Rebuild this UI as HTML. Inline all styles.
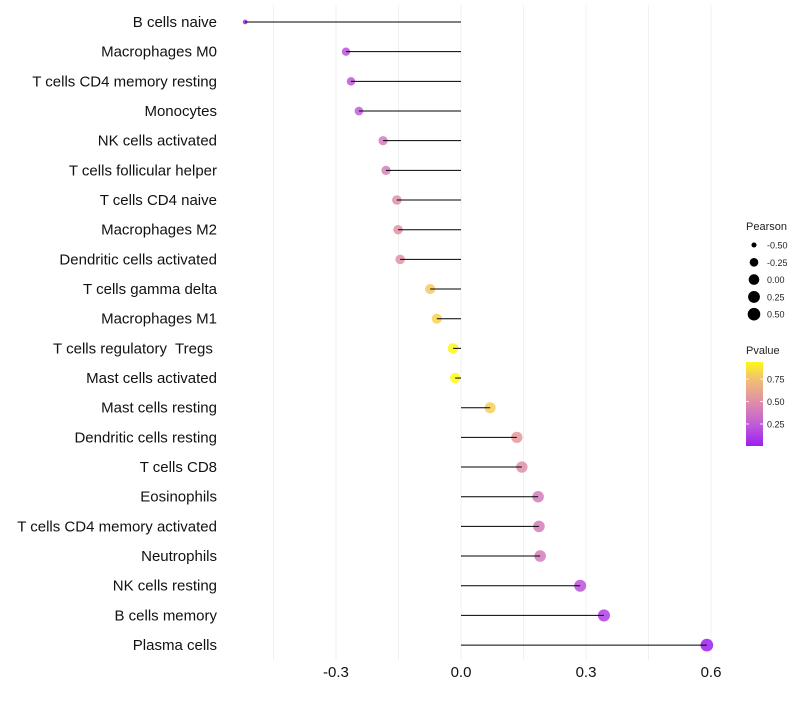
<!DOCTYPE html>
<html><head><meta charset="utf-8"><style>
body{margin:0;background:#fff;font-family:"Liberation Sans",sans-serif}
svg text{font-family:"Liberation Sans",sans-serif;white-space:pre}
</style></head><body>
<svg id="c" width="800" height="700"></svg>
<script>
const categories=["B cells naive","Macrophages M0","T cells CD4 memory resting","Monocytes","NK cells activated","T cells follicular helper","T cells CD4 naive","Macrophages M2","Dendritic cells activated","T cells gamma delta","Macrophages M1","T cells regulatory  Tregs ","Mast cells activated","Mast cells resting","Dendritic cells resting","T cells CD8","Eosinophils","T cells CD4 memory activated","Neutrophils","NK cells resting","B cells memory","Plasma cells"];
const pearson=[-0.518,-0.276,-0.264,-0.245,-0.187,-0.18,-0.154,-0.151,-0.146,-0.074,-0.058,-0.019,-0.014,0.070,0.134,0.146,0.185,0.187,0.19,0.286,0.343,0.590];
const pvalue=[0.01,0.2,0.22,0.25,0.4,0.42,0.5,0.52,0.52,0.78,0.82,0.94,0.95,0.8,0.55,0.5,0.4,0.4,0.4,0.2,0.13,0.005];
const xTicks=[-0.3,0.0,0.3,0.6];
const xTickLabels=["-0.3","0.0","0.3","0.6"];
const gridVals=[-0.45,-0.3,-0.15,0,0.15,0.3,0.45,0.6];
const sizeLegend=[-0.5,-0.25,0,0.25,0.5];
const sizeLegendLabels=["-0.50","-0.25","0.00","0.25","0.50"];
const pTicks=[0.25,0.5,0.75];
const pTickLabels=["0.25","0.50","0.75"];

const NS="http://www.w3.org/2000/svg";
const svg=document.getElementById('c');
function el(t,a,p){const e=document.createElementNS(NS,t);for(const k in a)e.setAttribute(k,a[k]);(p||svg).appendChild(e);return e;}
const x=v=>461+v*416.7;
const y=i=>22+i*29.67;
const r=v=>Math.sqrt(Math.max(3,28+33*v-20*v*v));
const stops=[[0,[155,31,240]],[0.25,[194,94,216]],[0.5,[223,143,168]],[0.75,[242,192,112]],[0.95,[255,250,20]]];
function col(p){for(let i=1;i<stops.length;i++){if(p<=stops[i][0]||i==stops.length-1){const a=stops[i-1],b=stops[i];let t=(p-a[0])/(b[0]-a[0]);t=Math.max(0,Math.min(1,t));const c=a[1].map((v,k)=>Math.round(v+(b[1][k]-v)*t));return `rgb(${c})`;}}}

gridVals.forEach(v=>{const g=el('line',{x1:x(v),x2:x(v),y1:5,y2:660,stroke:'#f0f0f0','stroke-width':1});

});
xTicks.forEach((v,i)=>{const t=el('text',{x:x(v),y:677,'text-anchor':'middle','font-size':15,fill:'#111'});t.textContent=xTickLabels[i];

});
categories.forEach((c,i)=>{
const t=el('text',{x:217,y:y(i)+5,'text-anchor':'end','font-size':15,fill:'#111'});t.textContent=c;


const d=el('circle',{cx:x(pearson[i]),cy:y(i),r:r(pearson[i]),fill:col(pvalue[i]),'fill-opacity':0.85});


const l=el('line',{x1:x(0),x2:x(pearson[i]),y1:y(i),y2:y(i),stroke:'#000','stroke-width':1});


});
const st=el('text',{x:746,y:230,'font-size':11,fill:'#222'});st.textContent='Pearson';


sizeLegend.forEach((v,i)=>{const yy=245+i*17.3;
const c=el('circle',{cx:754,cy:yy,r:r(v),fill:'#000'});


const t=el('text',{x:767,y:yy+3.5,'font-size':9,fill:'#222'});t.textContent=sizeLegendLabels[i];

});
const pt=el('text',{x:746,y:354,'font-size':11,fill:'#222'});pt.textContent='Pvalue';


const defs=el('defs',{});const lg=el('linearGradient',{id:'g',x1:0,y1:1,x2:0,y2:0},defs);
const pb=0.005,pTop=0.94,barTop=362,barBot=446;
for(let k=0;k<=10;k++){const p=pb+(pTop-pb)*k/10;el('stop',{offset:k/10,'stop-color':col(p)},lg);}
const bar=el('rect',{x:746,y:barTop,width:17,height:barBot-barTop,fill:'url(#g)'});


const py=p=>barBot-(p-pb)/(pTop-pb)*(barBot-barTop);
pTicks.forEach((p,i)=>{
el('line',{x1:746,x2:749,y1:py(p),y2:py(p),stroke:'#fff','stroke-width':0.8});
el('line',{x1:760,x2:763,y1:py(p),y2:py(p),stroke:'#fff','stroke-width':0.8});
const t=el('text',{x:767,y:py(p)+3.5,'font-size':9,fill:'#222'});t.textContent=pTickLabels[i];

});
</script>
</body></html>
